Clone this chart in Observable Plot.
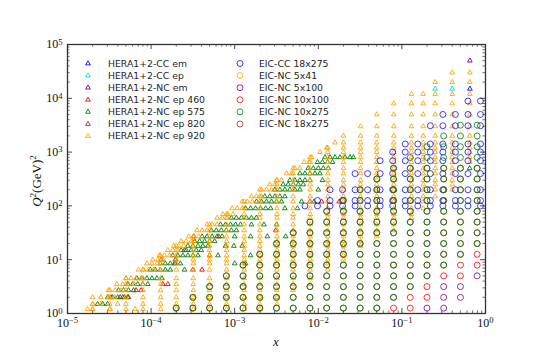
<!DOCTYPE html>
<html><head><meta charset="utf-8">
<script src="https://cdn.jsdelivr.net/npm/d3@7"></script>
<script src="https://cdn.jsdelivr.net/npm/@observablehq/plot@0.6"></script>
<style>body{margin:0;background:#fff}#c{width:540px;height:360px}</style>
</head><body><div id="c"></div>
<script>
// ---------------- data ----------------
const heraSeries = ["HERA1+2-CC em","HERA1+2-CC ep","HERA1+2-NC em","HERA1+2-NC ep 460","HERA1+2-NC ep 575","HERA1+2-NC ep 820","HERA1+2-NC ep 920"];
const heraColors = ["#0000ff","#00d8f0","#800080","#ff0000","#008000","#a52a2a","#ffa500"];
const eicSeries = ["EIC-CC 18x275","EIC-NC 5x41","EIC-NC 5x100","EIC-NC 10x100","EIC-NC 10x275","EIC-NC 18x275"];
const eicColors = ["#0000ff","#ffa500","#800080","#ff0000","#008000","#a52a2a"];

// HERA Q^2 rows and x columns
const heraQ = [1.2,1.5,2,2.7,3.5,4.5,6.5,8.5,10,12,15,18,22,27,35,45,60,70,90,120,150,200,250,300,400,500,650,800,1000,1200,1500,2000,3000,5000,8000,12000,20000,30000];
const heraX = [2e-5,3.2e-5,5e-5,8e-5,1.3e-4,2e-4,3.2e-4,5e-4,8e-4,1.3e-3,2e-3,3.2e-3,5e-3,8e-3,0.013,0.02,0.032,0.05,0.08,0.13,0.18,0.25,0.4,0.65];
const ep920Qmin = [1.2,1.2,1.2,1.2,1.2,1.2,1.2,1.2,1.2,1.2,1.2,1.5,2.7,3.5,6.5,10,18,27,35,60,90,150,200,650];
const ep920Qmax = [2,2.7,4.5,6.5,12,18,27,45,70,120,200,300,500,800,1200,2000,3000,5000,8000,12000,12000,20000,30000,30000];
// extra high-y points near the kinematic edge: [Q2, log10 x list]
const ep920Edge = [
 [1.2,[-4.76,-4.70,-4.49,-4.19]],[1.5,[-4.70,-4.60,-4.40]],[2,[-4.60,-4.51,-4.44]],
 [2.7,[-4.51,-4.43,-4.36]],[3.5,[-4.41,-4.34,-4.27,-4.20]],[4.5,[-4.30,-4.24,-4.18,-4.12]],
 [6.5,[-4.15,-4.09,-4.03,-3.97]],[8.5,[-4.05,-3.99,-3.93]],[10,[-3.98,-3.92,-3.86]],
 [12,[-3.90,-3.84,-3.78]],[15,[-3.80,-3.74,-3.68]],[18,[-3.73,-3.67,-3.61]],
 [22,[-3.64,-3.58,-3.52]],[27,[-3.55,-3.49,-3.43]],[35,[-3.45,-3.39,-3.33]],
 [45,[-3.33,-3.27,-3.21]],[60,[-3.21,-3.15,-3.09]],[70,[-3.14,-3.08,-3.02]],
 [90,[-3.03,-2.97,-2.91]],[120,[-2.91,-2.85,-2.79]],[150,[-2.80,-2.74,-2.68]],
 [200,[-2.68,-2.62,-2.56]],[250,[-2.58,-2.52]],[300,[-2.50,-2.44]],[400,[-2.38,-2.32]],
 [500,[-2.28,-2.22]],[650,[-2.17,-2.11]],[800,[-2.08]],[1000,[-1.98]],[1200,[-1.90]],[1500,[-1.80]]
];
// HERA NC ep 575: [Q2, log10 x list]
const ep575 = [
 [1.5,[-4.64,-4.58,-4.52]],[2,[-4.52,-4.46,-4.40,-4.34,-4.28]],[2.7,[-4.39,-4.33,-4.27,-4.21]],
 [3.5,[-4.28,-4.22,-4.16,-4.10,-4.04]],[4.5,[-4.17,-4.11,-4.05,-3.99,-3.93,-3.87]],
 [6.5,[-4.01,-3.95,-3.89,-3.83,-3.77,-3.60]],[8.5,[-3.89,-3.83,-3.77,-3.71,-3.65,-3.00,-2.87]],
 [12,[-3.74,-3.68,-3.62,-3.56,-3.50,-3.44,-3.20,-2.81]],[15,[-3.64,-3.58,-3.52,-3.46,-3.40]],
 [18,[-3.56,-3.50,-3.44,-3.38,-3.32,-3.11,-3.01,-2.91]],[22,[-3.48,-3.42,-3.36,-3.30,-3.24]],
 [27,[-3.39,-3.33,-3.27,-3.21,-3.15,-3.00,-2.81,-2.61,-2.39]],[35,[-3.28,-3.22,-3.16,-3.10,-3.04,-2.98]],
 [45,[-3.17,-3.11,-3.05,-2.99,-2.93,-2.80,-2.65,-2.50]],[60,[-3.04,-2.98,-2.92,-2.86,-2.80,-2.74]],
 [90,[-2.87,-2.81,-2.75,-2.69,-2.63,-2.57,-2.40,-2.25]],[120,[-2.74,-2.68,-2.62,-2.56,-2.50,-2.44,-2.20,-2.05]],
 [150,[-2.64,-2.58,-2.52,-2.46,-2.40]],[200,[-2.52,-2.46,-2.40,-2.34,-2.28,-2.22,-2.00]],
 [250,[-2.42,-2.36,-2.30,-2.24,-2.18]],[300,[-2.34,-2.28,-2.22,-2.16,-2.10,-1.95]],
 [400,[-2.22,-2.16,-2.10,-2.04,-1.98]],[500,[-2.12,-2.06,-2.00,-1.94,-1.88,-0.19]],
 [650,[-2.01,-1.95,-1.89,-1.83]],[800,[-1.92,-1.86,-1.80,-1.74,-1.68,-1.62,-1.58]]
];
// HERA NC ep 460 and 820: [log10 x, Q2]
const ep460 = [[-4.37,2],[-4.32,2],[-4.27,2],[-4.18,2.7],[-4.12,2.7],[-3.86,3.5],[-3.80,3.5],[-3.50,6.5],[-3.39,6.5],[-3.72,8.5],[-3.30,12],[-3.19,27],[-2.51,35],[-2.10,120],[-1.96,120],[-1.75,120]];
const ep820 = [[-4.48,2],[-3.88,10],[-3.71,10],[-3.60,15],[-3.49,27]];
// HERA high-Q2 charged current / e- points: [x, Q2]
const ccEm = [[0.65,15000]];
const ccEp = [[0.25,15000],[0.4,15000]];
const ncEm = [[0.65,50000]];

// EIC pseudo-data grid (log10 x columns, log10 Q2 rows)
const eicLx = [-3.7,-3.5,-3.3,-3.1,-2.9,-2.7,-2.5,-2.3,-2.1,-1.9,-1.7,-1.5,-1.3,-1.1,-0.9,-0.7,-0.5,-0.3,-0.1];
const eicLq = [0.1,0.3,0.5,0.7,0.9,1.1,1.3,1.5,1.7,1.9,2.1,2.3,2.5,2.7,2.9,3.1,3.3,3.5];
const nc10x275Lo = [0.1,0.1,0.1,0.1,0.1,0.1,0.1,0.1,0.1,0.1,0.1,0.1,0.1,0.3,0.5,0.7,0.9,1.1,1.3];
const nc10x275Hi = [0.1,0.3,0.5,0.7,0.9,1.1,1.3,1.5,1.7,1.9,2.1,2.3,2.5,2.7,2.9,3.1,3.3,3.5,3.5];
const nc18x275Lo = [0.1,0.1,0.1,0.1,0.1,0.1,0.1,0.1,0.1,0.1,0.1,0.1,0.1,0.3,0.5,0.7,0.9,1.1,1.3];
const nc18x275Hi = [0.1,0.3,0.5,0.7,0.9,1.1,1.3,1.5,1.7,1.9,2.1,2.3,2.5,2.7,2.7,2.7,2.7,2.7,2.7];
const nc10x100 = [[-1.1,0.1],[-0.9,0.1],[-0.9,0.3],[-0.7,0.3],[-0.7,0.5],[-0.5,0.7],[-0.3,0.7],[-0.3,0.9],[-0.1,0.9],[-0.1,1.1]];
const nc5x100 = [[-0.7,0.1],[-0.5,0.1],[-0.5,0.3],[-0.5,0.5],[-0.3,0.3],[-0.3,0.5],[-0.1,0.7]];
const nc5x41 = [];
const cc18Lx = [-2.16,-2.01,-1.86,-1.71,-1.56,-1.41,-1.26,-1.11,-0.96,-0.81,-0.66,-0.51,-0.36,-0.21,-0.06];
const cc18Lq = [2.0,2.1,2.3,2.6,2.84,3.0,3.15,3.49,3.7,3.95];
const cc18Hi = [2.0,2.1,2.3,2.3,2.6,2.6,2.84,3.0,3.15,3.15,3.49,3.7,3.7,3.95,3.95];

const majorX = [1e-5,1e-4,1e-3,1e-2,1e-1,1];
const majorY = [1,10,100,1e3,1e4,1e5];

// ---------------- build tables ----------------
const P = (x,q) => ({x, q});
const d920 = [];
heraX.forEach((x,i) => heraQ.forEach(q => { if (q >= ep920Qmin[i] && q <= ep920Qmax[i]) d920.push(P(x,q)); }));
ep920Edge.forEach(([q, l]) => l.forEach(lx => d920.push(P(10**lx, q))));
const d575 = []; ep575.forEach(([q, l]) => l.forEach(lx => d575.push(P(10**lx, q))));
const d460 = ep460.map(([lx,q]) => P(10**lx, q));
const d820 = ep820.map(([lx,q]) => P(10**lx, q));
const dCCem = ccEm.map(([x,q]) => P(x,q)), dCCep = ccEp.map(([x,q]) => P(x,q)), dNCem = ncEm.map(([x,q]) => P(x,q));
const grid = (lo, hi) => { const o = []; eicLx.forEach((lx,i) => eicLq.forEach(lq => { if (lq > lo[i]-1e-6 && lq < hi[i]+1e-6) o.push(P(10**lx, 10**lq)); })); return o; };
const d10x275 = grid(nc10x275Lo, nc10x275Hi);
const d18x275 = grid(nc18x275Lo, nc18x275Hi);
const d10x100 = nc10x100.map(([lx,lq]) => P(10**lx, 10**lq));
const d5x100 = nc5x100.map(([lx,lq]) => P(10**lx, 10**lq));
const d5x41 = nc5x41.map(([lx,lq]) => P(10**lx, 10**lq));
const dCC18 = []; cc18Lx.forEach((lx,i) => cc18Lq.forEach(lq => { if (lq < cc18Hi[i]+1e-6) dCC18.push(P(10**lx, 10**lq)); }));

const minorX = [], minorY = [];
majorX.slice(0,-1).forEach(m => { for (let k=2;k<10;k++) minorX.push(m*k); });
majorY.slice(0,-1).forEach(m => { for (let k=2;k<10;k++) minorY.push(m*k); });

// ---------------- plot ----------------
const W = 540, H = 360, mL = 67, mR = 55, mT = 44, mB = 47;
const iW = W-mL-mR, iH = H-mT-mB;
const TR = 1.75;
const tri = (data, color) => Plot.dot(data, {x:"x", y:"q", symbol:"triangle", r:TR, fill:"none", stroke:color, strokeWidth:1, strokeOpacity:0.9});
const circ = (data, color, op=0.8) => Plot.dot(data, {x:"x", y:"q", symbol:"circle", r:3, fill:"none", stroke:color, strokeWidth:1, strokeOpacity:op});
const tc = "#333";
const sup = d => "10^" + Math.round(Math.log10(d));

const chart = Plot.plot({
  width: W, height: H, marginLeft: mL, marginRight: mR, marginTop: mT, marginBottom: mB,
  x: {type:"log", domain:[1e-5,1]},
  y: {type:"log", domain:[1,1e5]},
  style: {background:"#fff", color:"#000"},
  marks: [
    tri(dCCem, heraColors[0]), tri(dCCep, heraColors[1]), tri(dNCem, heraColors[2]),
    tri(d460, heraColors[3]), tri(d575, heraColors[4]), tri(d820, heraColors[5]), tri(d920, heraColors[6]),
    circ(dCC18, eicColors[0], 0.75), circ(d5x41, eicColors[1]), circ(d5x100, eicColors[2]), circ(d10x100, eicColors[3]),
    circ(d18x275, eicColors[5]), circ(d10x275, eicColors[4]),
    Plot.frame({stroke: tc, strokeWidth: 1.3}),
    Plot.ruleX(majorX, {insetTop: iH-5, stroke: tc, strokeWidth: 0.9}),
    Plot.ruleX(majorX, {insetBottom: iH-5, stroke: tc, strokeWidth: 0.9}),
    Plot.ruleX(minorX, {insetTop: iH-2.6, stroke: tc, strokeWidth: 0.7}),
    Plot.ruleX(minorX, {insetBottom: iH-2.6, stroke: tc, strokeWidth: 0.7}),
    Plot.ruleY(majorY, {insetRight: iW-5, stroke: tc, strokeWidth: 0.9}),
    Plot.ruleY(majorY, {insetLeft: iW-5, stroke: tc, strokeWidth: 0.9}),
    Plot.ruleY(minorY, {insetRight: iW-2.6, stroke: tc, strokeWidth: 0.7}),
    Plot.ruleY(minorY, {insetLeft: iW-2.6, stroke: tc, strokeWidth: 0.7}),
    Plot.axisX({ticks: majorX, tickSize: 0, tickPadding: 5, tickFormat: sup, label: null, fontSize: 12, fontFamily: "Liberation Serif", fill: "#111"}),
    Plot.axisY({ticks: majorY, tickSize: 0, tickPadding: 5, tickFormat: sup, label: null, fontSize: 12, fontFamily: "Liberation Serif", fill: "#111"})
  ]
});
document.getElementById("c").appendChild(chart);

const svg = d3.select(chart);
// superscript exponents on tick labels
svg.selectAll("text").each(function() {
  const t = this.textContent; const m = /^10\^(-?\d+)$/.exec(t);
  if (!m) return;
  const el = d3.select(this); el.text("10");
  el.append("tspan").attr("dy", "-0.42em").attr("font-size", "0.72em").text(m[1].replace("-", "\u2212"));
});

// legend
const lg = svg.append("g").attr("font-family", "DejaVu Sans").attr("font-size", 9.3).attr("fill", "#262626").attr("text-anchor", "start");
const rowY = i => 63.5 + i*12.1;
heraSeries.forEach((s,i) => {
  lg.append("path").attr("d", d3.symbol(d3.symbolTriangle, TR*TR*Math.PI)()).attr("transform", `translate(88,${rowY(i)})`)
    .attr("fill", "none").attr("stroke", heraColors[i]).attr("stroke-width", 1).attr("stroke-opacity", 0.9);
  lg.append("text").attr("x", 108).attr("y", rowY(i)).attr("dy", "0.35em").attr("text-anchor", "start").text(s);
});
eicSeries.forEach((s,i) => {
  lg.append("circle").attr("cx", 240).attr("cy", rowY(i)).attr("r", 3)
    .attr("fill", "none").attr("stroke", eicColors[i]).attr("stroke-width", 1).attr("stroke-opacity", 0.8);
  lg.append("text").attr("x", 259).attr("y", rowY(i)).attr("dy", "0.35em").attr("text-anchor", "start").text(s);
});

// axis titles
svg.append("text").attr("x", 276).attr("y", 346).attr("text-anchor", "middle")
  .attr("font-family", "Liberation Serif").attr("font-size", 13).attr("font-style", "italic").attr("fill", "#111").text("x");
const yt = svg.append("text").attr("transform", "translate(41,181) rotate(-90)").attr("text-anchor", "middle")
  .attr("font-family", "Liberation Serif").attr("font-size", 13).attr("fill", "#111");
yt.append("tspan").attr("font-style", "italic").text("Q");
yt.append("tspan").attr("dy", -5).attr("font-size", 9).text("2");
yt.append("tspan").attr("dy", 5).text("(GeV)");
yt.append("tspan").attr("dy", -5).attr("font-size", 9).text("2");
</script></body></html>
